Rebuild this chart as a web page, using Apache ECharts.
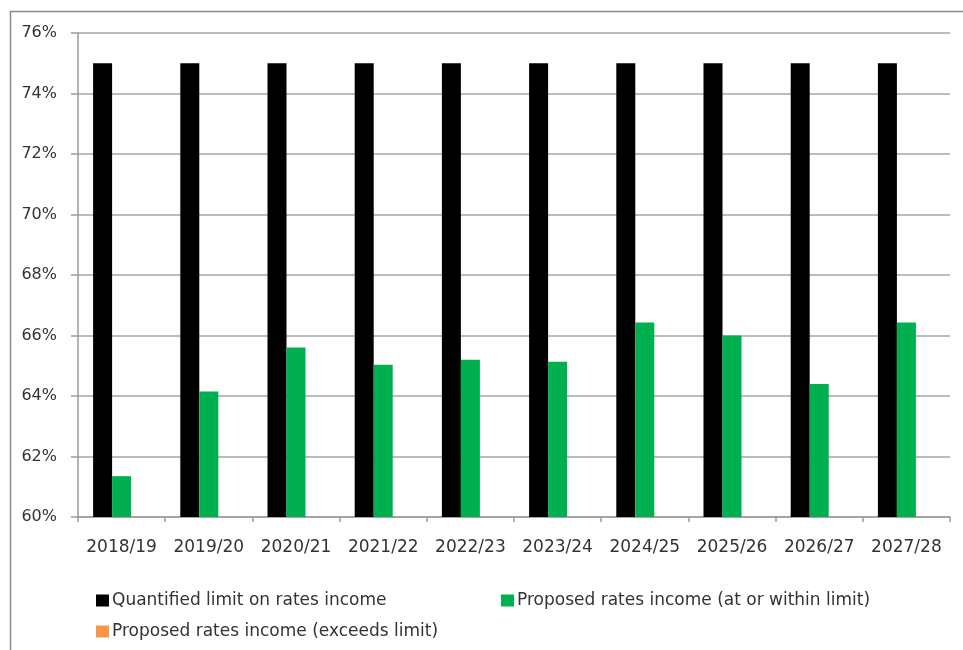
<!DOCTYPE html>
<html>
<head>
<meta charset="utf-8">
<script src="https://cdn.jsdelivr.net/npm/echarts@6/dist/echarts.min.js"></script>
<style>
  html, body { margin: 0; padding: 0; background: #fff; }
  #chart { width: 963px; height: 650px; }
</style>
</head>
<body>
<div id="chart"></div>
<script>
  // data
  const years = ['2018/19', '2019/20', '2020/21', '2021/22', '2022/23', '2023/24', '2024/25', '2025/26', '2026/27', '2027/28']
  const limitValues = [75, 75, 75, 75, 75, 75, 75, 75, 75, 75]
  const withinValues = [61.35, 64.15, 65.6, 65.03, 65.2, 65.13, 66.43, 66.0, 64.4, 66.43]
  const exceedsValues = [null, null, null, null, null, null, null, null, null, null]
  const seriesNames = ['Quantified limit on rates income', 'Proposed rates income (at or within limit)', 'Proposed rates income (exceeds limit)']

  const chartDom = document.getElementById('chart')
  const myChart = echarts.init(chartDom)
  const textColor = '#333'
  const font = 'DejaVu Sans'

  const legendBase = {
    itemWidth: 13,
    itemHeight: 12,
    itemGap: 4,
    icon: 'rect',
    selectedMode: false,
    textStyle: { color: textColor, fontSize: 17, fontFamily: font, padding: [0, 0, 0, -2] }
  }

  let option = {
    backgroundColor: '#fff',
    animation: false,
    graphic: [
      {
        type: 'rect',
        left: 8,
        top: 9,
        shape: { width: 970, height: 660 },
        style: { fill: 'none', stroke: '#8c8c8c', lineWidth: 1.5 }
      }
    ],
    legend: [
      Object.assign({ data: [seriesNames[0]], left: 91, top: 587 }, legendBase),
      Object.assign({ data: [seriesNames[1]], left: 496, top: 587 }, legendBase),
      Object.assign({ data: [seriesNames[2]], left: 91, top: 618 }, legendBase)
    ],
    grid: {
      left: 78,
      right: 13,
      top: 33,
      bottom: 133,
      containLabel: false
    },
    xAxis: {
      type: 'category',
      data: years,
      axisLine: { lineStyle: { color: '#9a9a9a', width: 1.5 } },
      axisTick: { show: true, interval: 0, length: 5, alignWithLabel: false, lineStyle: { color: '#9a9a9a', width: 1.5 } },
      axisLabel: { interval: 0, color: textColor, fontSize: 17, fontFamily: font, margin: 22 }
    },
    yAxis: {
      type: 'value',
      min: 60,
      max: 76,
      interval: 2,
      axisLine: { show: true, lineStyle: { color: '#9a9a9a', width: 1.5 } },
      axisTick: { show: true, length: 7, lineStyle: { color: '#9a9a9a', width: 1.5 } },
      splitLine: { show: true, lineStyle: { color: '#a6a6a6', width: 1.5 } },
      axisLabel: { color: textColor, fontSize: 16, fontFamily: font, margin: 21, formatter: '{value}%' }
    },
    series: [
      {
        name: seriesNames[0],
        type: 'bar',
        barWidth: 19,
        barGap: '0%',
        itemStyle: { color: '#000000' },
        data: limitValues
      },
      {
        name: seriesNames[1],
        type: 'bar',
        barWidth: 19,
        barGap: '0%',
        itemStyle: { color: '#00b050' },
        data: withinValues
      },
      {
        name: seriesNames[2],
        type: 'bar',
        barWidth: 19,
        barGap: '0%',
        itemStyle: { color: '#f79646' },
        data: exceedsValues
      }
    ]
  }

  option && myChart.setOption(option)
</script>
</body>
</html>
